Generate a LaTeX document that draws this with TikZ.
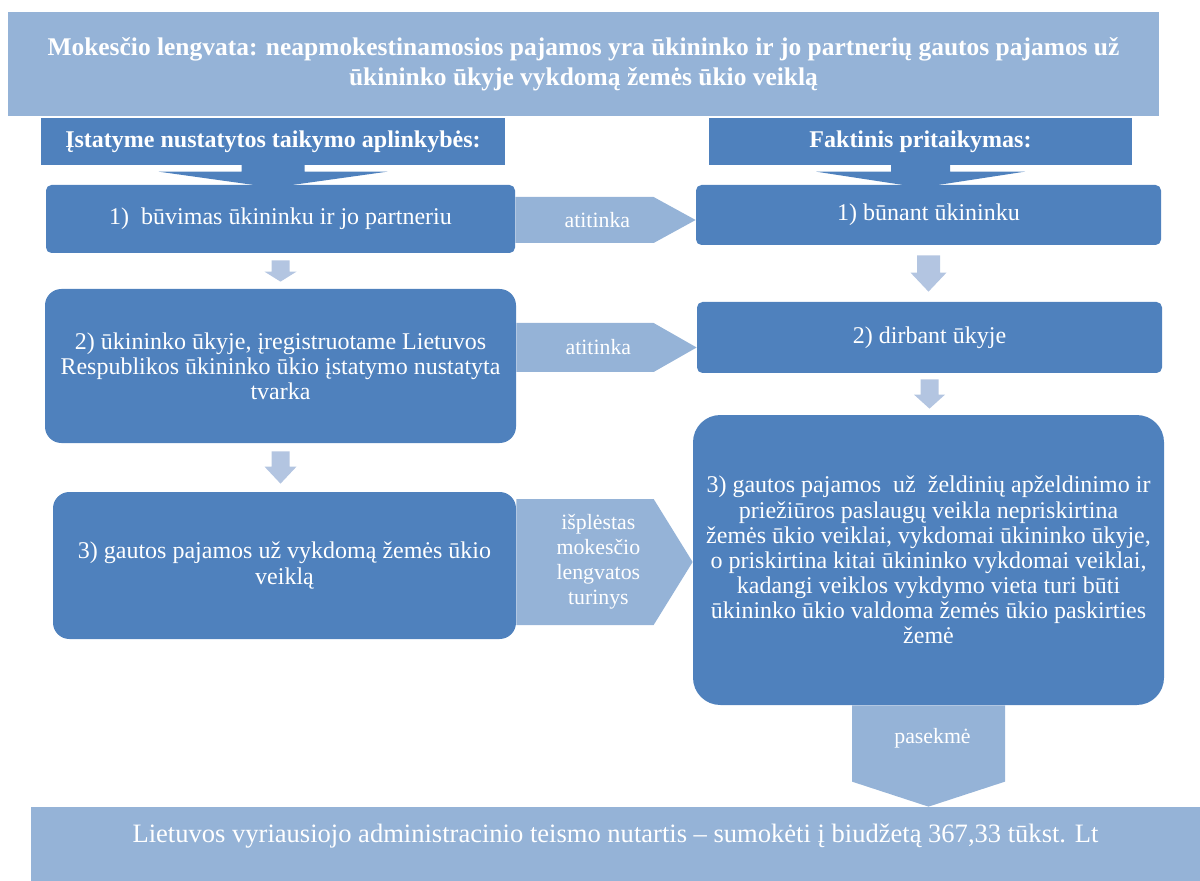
\documentclass[tikz,border=0pt]{standalone}
\usepackage{fontspec}
\setmainfont{Liberation Serif}
\usetikzlibrary{calc}
\definecolor{darkblue}{HTML}{4F81BD}
\definecolor{liteblue}{HTML}{95B3D7}
\definecolor{paleblue}{HTML}{B3C5E1}
% down block arrow: colour, from, to, stem half, head half, head length, gap
\newcommand{\blockdown}[7]{%
\fill[#1] ($(#2.south)+(-#4,#7)$) -- ($(#2.south)+(#4,#7)$) -- ($(#3.north -| #2.south)+(#4,{-(#7)-(#6)})$) -- ($(#3.north -| #2.south)+(#5,{-(#7)-(#6)})$) -- ($(#3.north -| #2.south)+(0,{-(#7)})$) -- ($(#3.north -| #2.south)+(-#5,{-(#7)-(#6)})$) -- ($(#3.north -| #2.south)+(-#4,{-(#7)-(#6)})$) -- cycle;}
% right block arrow: from, to, shift, half height, head length, label
\newcommand{\blockright}[6]{%
\fill[liteblue] ($(#1.east)+(0,{#3-#4})$) -- ($(#2.west |- #1.east)+(-#5,{#3-#4})$) -- ($(#2.west |- #1.east)+(0,#3)$) -- ($(#2.west |- #1.east)+(-#5,{#3+#4})$) -- ($(#1.east)+(0,{#3+#4})$) -- cycle;
\node[lbl] at ($(#1.east)+(82,#3)$) {#6};}
\begin{document}
\begin{tikzpicture}[x=0.55pt,y=-0.55pt,
box/.style={fill=darkblue,text=white,align=center,inner sep=0pt,font=\fontsize{13.2}{13.8}\selectfont},
head/.style={box,font=\bfseries\fontsize{13.2}{16.5}\selectfont},
lbl/.style={text=white,align=center,inner sep=0pt,font=\fontsize{12}{13.8}\selectfont}]
\useasboundingbox (0,0) rectangle (1200,881);
\node[head,font=\bfseries\fontsize{14}{16.5}\selectfont,fill=liteblue,minimum width=633pt,minimum height=57.2pt] at (583.5,64) (title) {Mokesčio lengvata: neapmokestinamosios pajamos yra ūkininko ir jo partnerių gautos pajamos už\\ūkininko ūkyje vykdomą žemės ūkio veiklą};
\node[head,minimum width=255.2pt,minimum height=25.85pt] at (273,141.5) (hdrL) {Įstatyme nustatytos taikymo aplinkybės:};
\node[head,minimum width=232.65pt,minimum height=25.85pt] at (920.5,141.5) (hdrR) {Faktinis pritaikymas:};
\node[box,rounded corners=3pt,minimum width=257.95pt,minimum height=37.4pt] at (280.5,219) (l1) {1)\ \ būvimas ūkininku ir jo partneriu};
\node[box,rounded corners=3pt,minimum width=255.75pt,minimum height=33pt] at (928.5,215) (r1) {1) būnant ūkininku};
\node[box,rounded corners=9pt,minimum width=259.05pt,minimum height=84.7pt] at (280.5,366) (l2) {2) ūkininko ūkyje, įregistruotame Lietuvos\\Respublikos ūkininko ūkio įstatymo nustatyta\\tvarka};
\node[box,rounded corners=3pt,minimum width=255.75pt,minimum height=39.05pt] at (929.5,337.5) (r2) {2) dirbant ūkyje};
\node[box,rounded corners=9pt,minimum width=254.65pt,minimum height=80.85pt] at (284.5,565.5) (l3) {3) gautos pajamos už vykdomą žemės ūkio\\veiklą};
\node[box,rounded corners=15pt,minimum width=259.05pt,minimum height=159.5pt] at (928.5,560) (r3) {3) gautos pajamos\ \ už\ \ želdinių apželdinimo ir\\priežiūros paslaugų veikla nepriskirtina\\žemės ūkio veiklai, vykdomai ūkininko ūkyje,\\o priskirtina kitai ūkininko vykdomai veiklai,\\kadangi veiklos vykdymo vieta turi būti\\ūkininko ūkio valdoma žemės ūkio paskirties\\žemė};
\node[box,fill=liteblue,font=\fontsize{14.6}{16}\selectfont,minimum width=643pt,minimum height=40.7pt,text height=10pt,text depth=12.2pt] at (615.5,844) (verdict) {Lietuvos vyriausiojo administracinio teismo nutartis – sumokėti į biudžetą 367,33 tūkst. Lt};
\blockdown{darkblue}{hdrL}{l1}{31.5}{114.5}{16}{-3}
\blockdown{darkblue}{hdrR}{r1}{29.5}{104.5}{16}{-3}
\blockdown{paleblue}{l1}{l2}{9}{16}{10}{7}
\blockdown{paleblue}{l2}{l3}{9}{16}{17}{8}
\blockdown{paleblue}{r1}{r2}{11.5}{18}{19}{10}
\blockdown{paleblue}{r2}{r3}{9}{15.5}{14}{6}
\blockdown{liteblue}{r3}{verdict}{76.5}{76.5}{25}{0}
\node[lbl] at ($(r3.south)+(4,33)$) (consequence) {pasekmė};
\blockright{l1}{r1}{1}{23}{42}{atitinka}
\blockright{l2}{r2}{-18.5}{24.5}{43}{atitinka}
\blockright{l3}{r3}{-3.5}{63}{39}{išplėstas\\mokesčio\\lengvatos\\turinys}
\end{tikzpicture}
\end{document}
